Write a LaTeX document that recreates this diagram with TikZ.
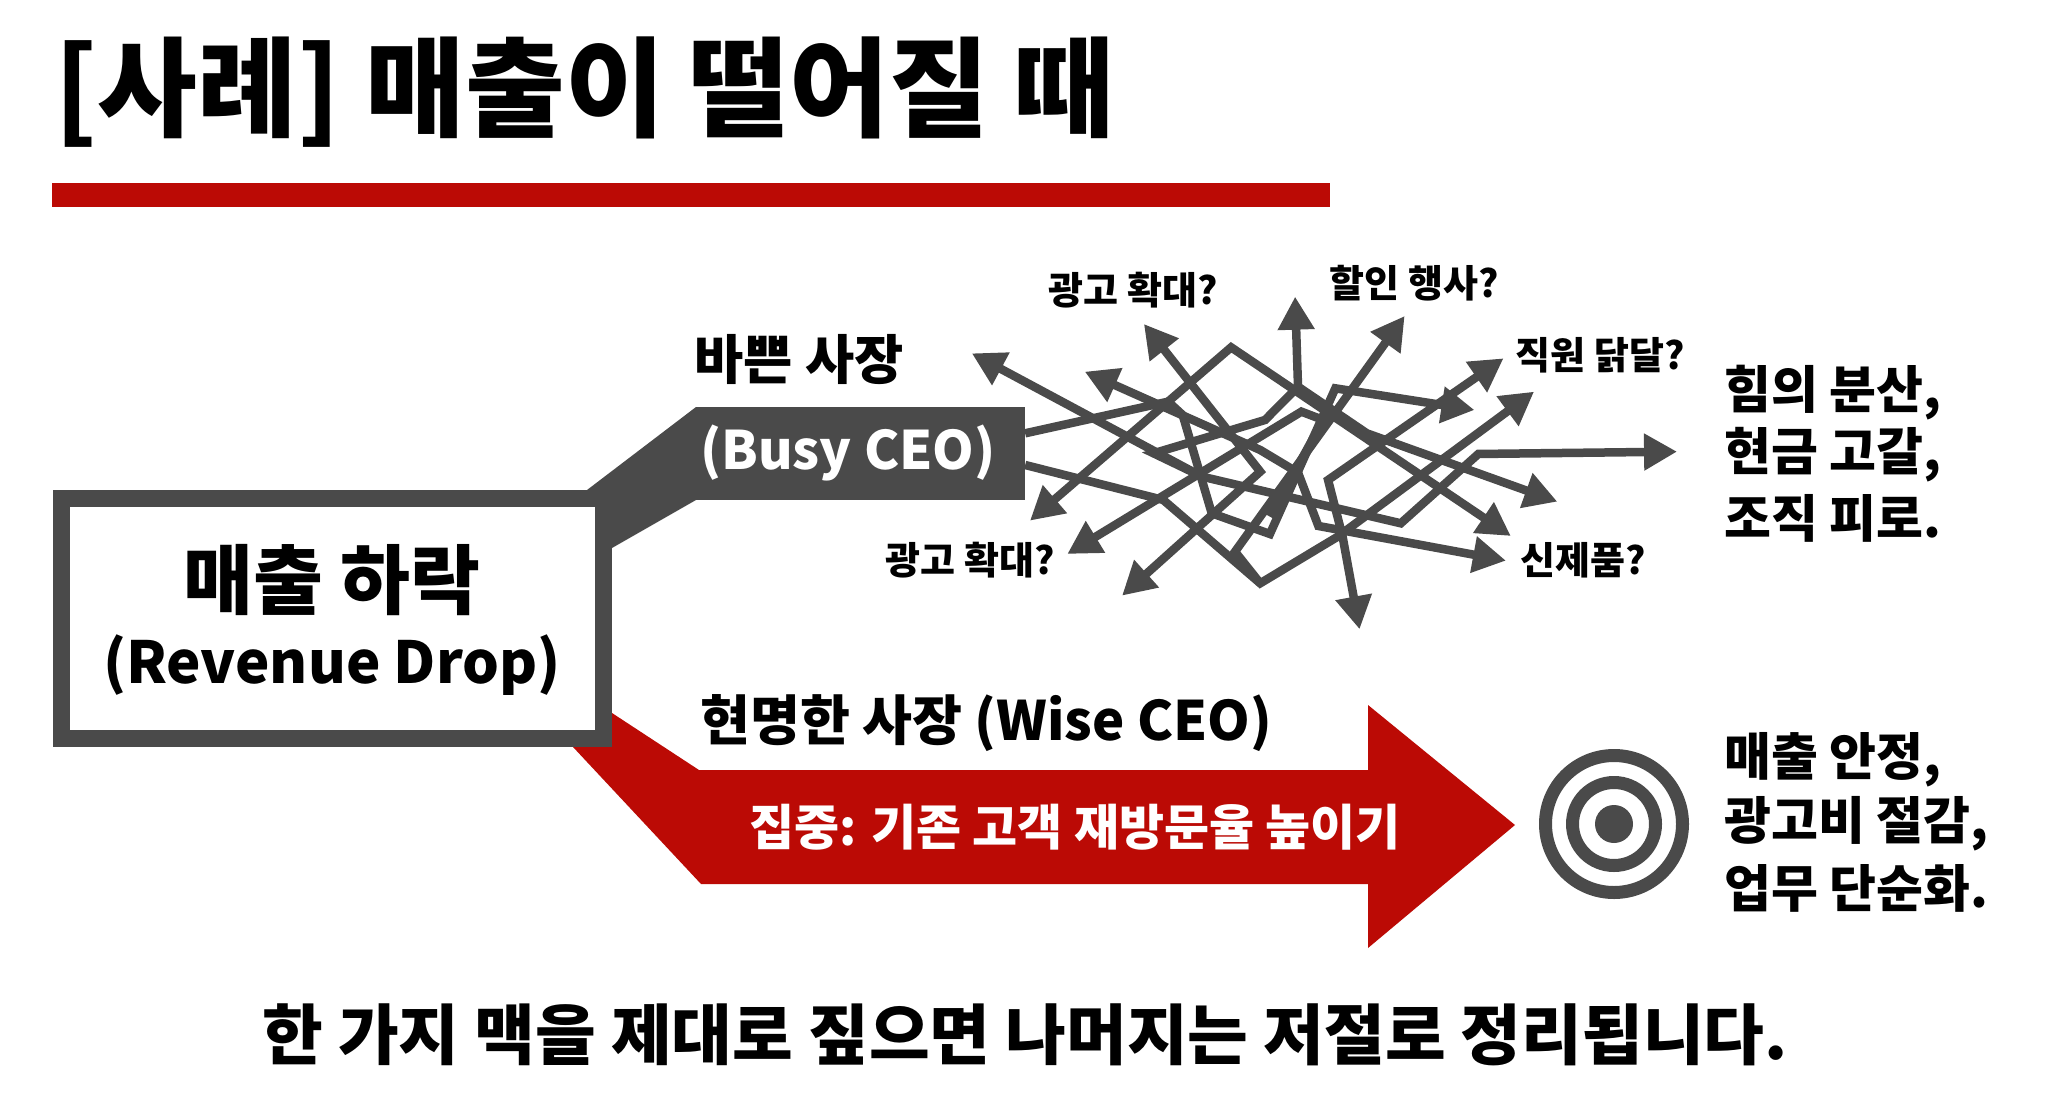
\documentclass[tikz,border=0pt]{standalone}
\usepackage{fontspec}
\setmainfont{Noto Sans CJK KR Black}
\usetikzlibrary{arrows.meta}
\definecolor{slate}{HTML}{4A4A4A}
\definecolor{crim}{HTML}{BB0A05}
\newcommand{\fsz}[1]{\fontsize{#1}{#1}\selectfont}
\tikzset{
  x=1pt,y=-1pt,
  tangle/.style={draw=slate,line width=8.5pt,miter limit=4,-{Triangle[length=33pt,width=35pt]}},
  tangleb/.style={draw=slate,line width=8.5pt,miter limit=4,{Triangle[length=33pt,width=35pt]}-{Triangle[length=33pt,width=35pt]}},
  small/.style={font=\fsz{38},text=black,inner sep=0pt},
  outcome/.style={font=\fsz{51},text=black,inner sep=0pt,anchor=west},
}
\begin{document}
\begin{tikzpicture}
\useasboundingbox[fill=white] (0,0) rectangle (2048,1100);
% title
\node[font=\fsz{108.5},inner sep=0pt,anchor=west] (title) at (54,92) {[사례] 매출이 떨어질 때};
\fill[crim] (52,183) rectangle (1330,207);

% anchors for the two branches
\coordinate (gA) at (587,490); \coordinate (gB) at (696,407);
\coordinate (gC) at (696,500); \coordinate (gD) at (612,548);
\coordinate (rA) at (612,713); \coordinate (rB) at (699,770);
\coordinate (rC) at (1368,770); \coordinate (rD) at (1368,705);
\coordinate (rE) at (1515,825); \coordinate (rF) at (1368,948);
\coordinate (rG) at (1368,884); \coordinate (rH) at (701,884);
\coordinate (rI) at (573,747);

\fill[slate] (gA) -- (gB) -- (gC) -- (gD) -- cycle;
\fill[crim] (rA) -- (rB) -- (rC) -- (rD) -- (rE) -- (rF) -- (rG) -- (rH) -- (rI) -- cycle;

\node[fill=slate,minimum width=329pt,minimum height=93pt,inner sep=0pt] (busy) at (860.5,453.5) {};
\node[text=white,font=\fsz{53},inner sep=0pt] (busyt) at (848,453) {(Busy CEO)};

\node[draw=slate,line width=17pt,fill=white,minimum width=542pt,minimum height=240pt,inner sep=0pt] (rev) at (332,618.5) {};
\node[font=\fsz{76},inner sep=0pt] (revk) at (332,580) {매출 하락};
\node[font=\fsz{58},inner sep=0pt] (reve) at (332,665) {(Revenue Drop)};

\node[font=\fsz{53.5},inner sep=0pt] (busyl) at (799,360) {바쁜 사장};
\node[font=\fsz{54.3},inner sep=0pt,anchor=west] (wisel) at (700,723) {현명한 사장 (Wise CEO)};
\node[font=\fsz{49},inner sep=0pt,text=white] (focus) at (1075,827) {집중: 기존 고객 재방문율 높이기};

% tangle, in crop coordinates
\begin{scope}[shift={(950,250)},x=0.4847pt,y=-0.3333pt]
\coordinate (t1) at (1082,480);
\coordinate (t2) at (1205,425);
\coordinate (t3a) at (45,310);
\coordinate (t3b) at (1500,605);
\coordinate (t4a) at (400,222);
\coordinate (t4b) at (355,1037);
\coordinate (t5a) at (165,812);
\coordinate (t5b) at (1157,858);
\coordinate (t6a) at (278,365);
\coordinate (t6b) at (1147,932);
\coordinate (t7) at (712,140);
\coordinate (t8) at (938,198);
\coordinate (t9a) at (1142,325);
\coordinate (t9b) at (845,1138);
\coordinate (t10) at (1253,755);
\coordinate (t11) at (242,912);
\coordinate (s1) at (155,550);
\coordinate (s2) at (155,645);
\draw[tangle] (s1) -- (450,455) -- (480,495) -- (540,790) -- (660,852) -- (795,415) -- (t1);
\draw[tangle] (s2) -- (440,750) -- (640,1000) -- (800,860) -- (t2);
\draw[tangleb] (t3a) -- (430,610) -- (520,680) -- (930,820) -- (1090,612) -- (t3b);
\draw[tangleb] (t4a) -- (640,665) -- (t4b);
\draw[tangleb] (t5a) -- (580,292) -- (t5b);
\draw[tangleb] (t6a) -- (640,600) -- (718,668) -- (760,828) -- (t6b);
\draw[tangle] (520,680) -- (420,610) -- (650,510) -- (718,410) -- (t7);
\draw[tangle] (640,1000) -- (588,905) -- (t8);
\draw[tangleb] (t9a) -- (780,690) -- (810,860) -- (t9b);
\draw[tangle] (718,410) -- (860,550) -- (t10);
\draw[tangle] (660,800) -- (770,510) -- (725,485) -- (t11);
\end{scope}

% small labels
\node[small] (l1) at (1133,290) {광고 확대?};
\node[small] (l2) at (1414,283) {할인 행사?};
\node[small] (l3) at (1600,355) {직원 닭달?};
\node[small] (l4) at (970,560) {광고 확대?};
\node[small] (l5) at (1583,560) {신제품?};

% outcomes
\node[outcome] (o1a) at (1724,393) {힘의 분산,};
\node[outcome] (o1b) at (1724,455) {현금 고갈,};
\node[outcome] (o1c) at (1724,518) {조직 피로.};
\node[outcome] (o2a) at (1724,760) {매출 안정,};
\node[outcome] (o2b) at (1724,824) {광고비 절감,};
\node[outcome] (o2c) at (1724,888) {업무 단순화.};

% target
\node[circle,draw=slate,line width=13pt,minimum size=137pt,inner sep=0pt] (tg1) at (1614,824) {};
\node[circle,draw=slate,line width=13pt,minimum size=83pt,inner sep=0pt] (tg2) at (1614,824) {};
\node[circle,fill=slate,minimum size=38pt,inner sep=0pt] (tg3) at (1614,824) {};

\node[font=\fsz{66},inner sep=0pt] (foot) at (1025,1035) {한 가지 맥을 제대로 짚으면 나머지는 저절로 정리됩니다.};
\end{tikzpicture}
\end{document}
